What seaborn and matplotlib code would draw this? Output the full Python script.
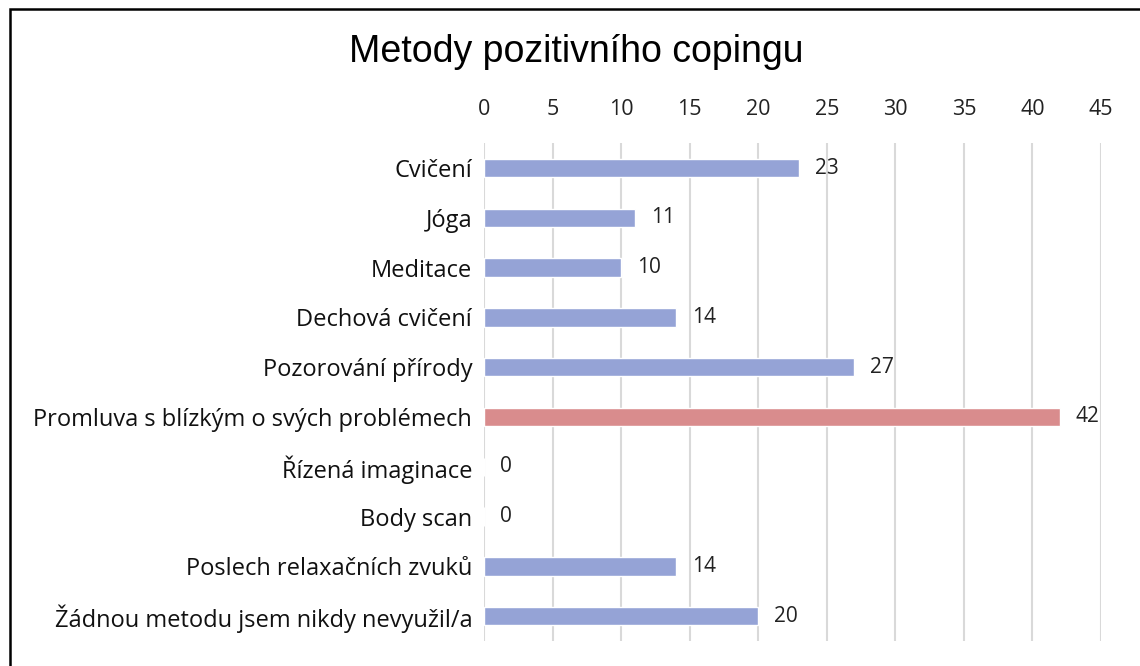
import pandas as pd
import matplotlib
matplotlib.use("Agg")
import matplotlib.pyplot as plt
import seaborn as sns

categories = [
    "Cvičení",
    "Jóga",
    "Meditace",
    "Dechová cvičení",
    "Pozorování přírody",
    "Promluva s blízkým o svých problémech",
    "Řízená imaginace",
    "Body scan",
    "Poslech relaxačních zvuků",
    "Žádnou metodu jsem nikdy nevyužil/a",
]
counts = [23, 11, 10, 14, 27, 42, 0, 0, 14, 20]
highlight = "Promluva s blízkým o svých problémech"
x_ticks = [0, 5, 10, 15, 20, 25, 30, 35, 40, 45]

BLUE = "#95A3D6"
RED = "#D98C8D"

df = pd.DataFrame({"Metoda": categories, "Počet": counts})
df["barva"] = ["red" if c == highlight else "blue" for c in categories]

sns.set_theme(style="white")
plt.rcParams["font.family"] = ["Open Sans", "DejaVu Sans"]

fig = plt.figure(figsize=(11.4, 6.66), dpi=100)
ax = fig.add_axes([0.4246, 0.0375, 0.5412, 0.7475])

sns.barplot(
    data=df, y="Metoda", x="Počet", hue="barva",
    palette={"blue": BLUE, "red": RED}, dodge=False, saturation=1,
    width=0.37, legend=False, ax=ax, zorder=3,
)

for cont in ax.containers:
    labels = [f"{int(v)}" for v in cont.datavalues]
    ax.bar_label(cont, labels=labels, padding=11.5, fontsize=15, color="#222222")

ax.set_xlim(0, 45)
ax.set_xticks(x_ticks)
ax.xaxis.tick_top()
ax.tick_params(axis="x", length=0, pad=17, labelsize=15.5, colors="#222222")
ax.tick_params(axis="y", length=0, pad=8.5, labelsize=17, colors="#111111")
ax.set_xlabel("")
ax.set_ylabel("")
ax.grid(axis="x", color="#D9D9D9", linewidth=1.5, zorder=0)
ax.grid(axis="y", visible=False)
for s in ax.spines.values():
    s.set_visible(False)

fig.text(0.5053, 0.922, "Metody pozitivního copingu", ha="center", va="center",
         fontsize=27, family=["Liberation Sans", "DejaVu Sans"], color="#000000")

# outer frame (only top and left edges visible)
frame = plt.Rectangle((10 / 1140, -0.1), 1.2, 1.1 - 9 / 666,
                      transform=fig.transFigure, fill=False,
                      edgecolor="black", linewidth=1.8, zorder=10)
fig.patches.append(frame)

fig.savefig("out.png", dpi=100)
